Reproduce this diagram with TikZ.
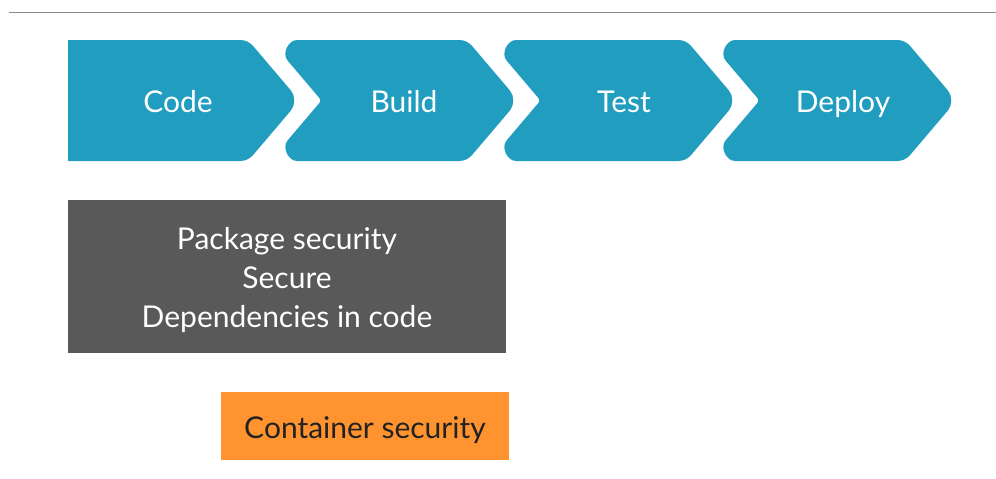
\documentclass[tikz,border=0pt]{standalone}
\usepackage{fontspec}
\setmainfont{Lato}
\usetikzlibrary{calc}
\definecolor{stageblue}{HTML}{209DBF}
\definecolor{boxgray}{HTML}{595959}
\definecolor{boxorange}{HTML}{FF9330}
\definecolor{ruleline}{HTML}{8C8C8C}
\definecolor{darktext}{HTML}{222222}
\newcommand{\toplift}{\rule{0pt}{30pt}}
% corner helper: #1 vertex, #2 previous vertex, #3 next vertex,
% #4 tangent distance (pt), #5 control fraction for a near-circular arc
\newcommand{\cornerpts}[5]{%
  \coordinate (#1-a) at ($(#1)!#4pt!(#2)$);
  \coordinate (#1-b) at ($(#1)!#4pt!(#3)$);
  \coordinate (#1-p) at ($(#1-a)!#5!(#1)$);
  \coordinate (#1-q) at ($(#1-b)!#5!(#1)$);}
\begin{document}
\begin{tikzpicture}[x=1pt,y=-1pt,
  stagefill/.style={fill=stageblue},
  stagelabel/.style={text=white, font=\fontsize{30}{36}\selectfont, inner sep=0pt, anchor=base},
  graybox/.style={fill=boxgray, text=white, font=\fontsize{30}{39}\selectfont,
    align=center, minimum width=438pt, minimum height=153pt, inner sep=0pt},
  orangebox/.style={fill=boxorange, text=darktext, font=\fontsize{30}{36}\selectfont,
    minimum width=288pt, minimum height=68pt, inner sep=0pt}]
\useasboundingbox (0,0) rectangle (996,479);

% top rule
\coordinate (rule-l) at (9,12.5);
\coordinate (rule-r) at (996,12.5);
\draw[ruleline, line width=1.5pt] (rule-l) -- (rule-r);

% first stage: flat left edge
\coordinate (c0-tl) at (68,40);
\coordinate (c0-tr) at (248,40);
\coordinate (c0-t)  at (299.4,100.5);
\coordinate (c0-br) at (248,161);
\coordinate (c0-bl) at (68,161);
\cornerpts{c0-tr}{c0-tl}{c0-t}{8}{0.646}
\cornerpts{c0-t}{c0-tr}{c0-br}{13}{0.52}
\cornerpts{c0-br}{c0-t}{c0-bl}{8}{0.646}
\fill[stagefill] (c0-tl) -- (c0-tr-a) .. controls (c0-tr-p) and (c0-tr-q) .. (c0-tr-b)
  -- (c0-t-a) .. controls (c0-t-p) and (c0-t-q) .. (c0-t-b)
  -- (c0-br-a) .. controls (c0-br-p) and (c0-br-q) .. (c0-br-b)
  -- (c0-bl) -- cycle;

% remaining stages: notched chevrons, 219pt apart
\foreach \i in {1,2,3} {
  \pgfmathsetmacro\o{219*\i}
  \coordinate (c\i-tl) at (51.1+\o,40);
  \coordinate (c\i-tr) at (248+\o,40);
  \coordinate (c\i-t)  at (299.4+\o,100.5);
  \coordinate (c\i-br) at (248+\o,161);
  \coordinate (c\i-bl) at (51.1+\o,161);
  \coordinate (c\i-n)  at (102.5+\o,100.5);
  \cornerpts{c\i-tl}{c\i-n}{c\i-tr}{27}{0.333}
  \cornerpts{c\i-tr}{c\i-tl}{c\i-t}{8}{0.646}
  \cornerpts{c\i-t}{c\i-tr}{c\i-br}{13}{0.52}
  \cornerpts{c\i-br}{c\i-t}{c\i-bl}{8}{0.646}
  \cornerpts{c\i-bl}{c\i-br}{c\i-n}{27}{0.333}
  \cornerpts{c\i-n}{c\i-bl}{c\i-tl}{3}{0.52}
  \fill[stagefill] (c\i-tl-b)
    -- (c\i-tr-a) .. controls (c\i-tr-p) and (c\i-tr-q) .. (c\i-tr-b)
    -- (c\i-t-a)  .. controls (c\i-t-p)  and (c\i-t-q)  .. (c\i-t-b)
    -- (c\i-br-a) .. controls (c\i-br-p) and (c\i-br-q) .. (c\i-br-b)
    -- (c\i-bl-a) .. controls (c\i-bl-p) and (c\i-bl-q) .. (c\i-bl-b)
    -- (c\i-n-a)  .. controls (c\i-n-p)  and (c\i-n-q)  .. (c\i-n-b)
    -- (c\i-tl-a) .. controls (c\i-tl-p) and (c\i-tl-q) .. (c\i-tl-b) -- cycle;
}

% stage labels
\node[stagelabel] (code)   at (178,112) {Code};
\node[stagelabel] (build)  at (404,112) {Build};
\node[stagelabel] (test)   at (624,112) {Test};
\node[stagelabel] (deploy) at (843,112) {Deploy};

% security boxes
\node[graybox] (pkg) at (287,276.5) {\toplift Package security\\Secure\\Dependencies in code};
\node[orangebox] (container) at (365,426) {\toplift Container security};
\end{tikzpicture}
\end{document}
